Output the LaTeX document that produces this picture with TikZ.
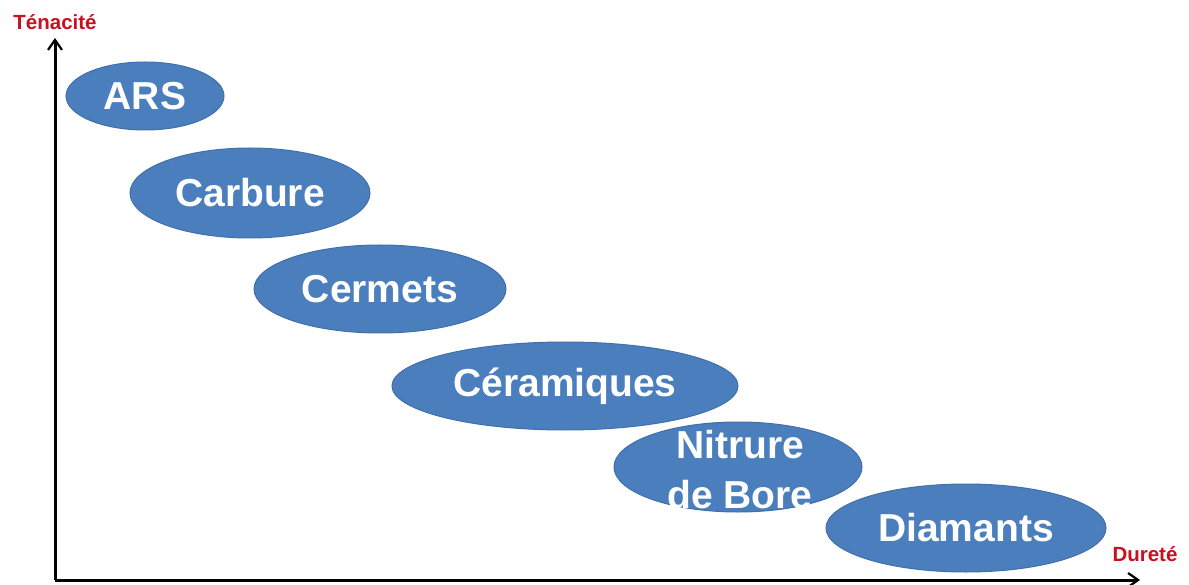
\documentclass[tikz,border=0pt]{standalone}
\usepackage{fontspec}
\setmainfont{Liberation Sans}
\usetikzlibrary{shapes.geometric,arrows.meta}
\definecolor{blob}{RGB}{74,126,189}
\definecolor{blobedge}{RGB}{64,112,170}
\definecolor{axred}{RGB}{200,16,30}
\tikzset{
  blobshape/.style={ellipse, fill=blob, draw=blobedge, line width=1pt, inner sep=0pt},
  blobtext/.style={text=white, font=\fontsize{39}{50}\selectfont\bfseries, align=center, inner sep=0pt},
  axis/.style={line width=3pt, -{Straight Barb[length=10pt,width=14pt,line width=2.2pt]}},
  axlabel/.style={text=axred, font=\fontsize{20.5}{22}\selectfont\bfseries, inner sep=0pt}
}
\begin{document}
\begin{tikzpicture}[x=1pt,y=-1pt]
\useasboundingbox (0,0) rectangle (1189,585);
\coordinate (O) at (55,580);
\coordinate (ytop) at (55,38);
\coordinate (xend) at (1140,580);
\draw[axis] (O) -- (ytop);
\draw[axis] (O) -- (xend);
\node[axlabel] (ten) at (55,22) {Ténacité};
\node[axlabel] (dur) at (1145,554) {Dureté};

\node[blobshape, minimum width=158pt, minimum height=68pt] (e1) at (145,96) {};
\node[blobshape, minimum width=240pt, minimum height=90pt] (e2) at (250,193) {};
\node[blobshape, minimum width=252pt, minimum height=88pt] (e3) at (380,289) {};
\node[blobshape, minimum width=346pt, minimum height=88pt] (e4) at (565,386) {};
\node[blobshape, minimum width=248pt, minimum height=90pt] (e5) at (738,467) {};
\node[blobshape, minimum width=280pt, minimum height=88pt] (e6) at (966,528) {};

\node[blobtext] (t1) at (e1.center) {ARS};
\node[blobtext] (t2) at (e2.center) {Carbure};
\node[blobtext] (t3) at (e3.center) {Cermets};
\node[blobtext] (t4) at (e4.center) {Céramiques};
\node[blobtext] (t5) at (740,470) {Nitrure\\de Bore};
\node[blobtext] (t6) at (e6.center) {Diamants};
\end{tikzpicture}
\end{document}
